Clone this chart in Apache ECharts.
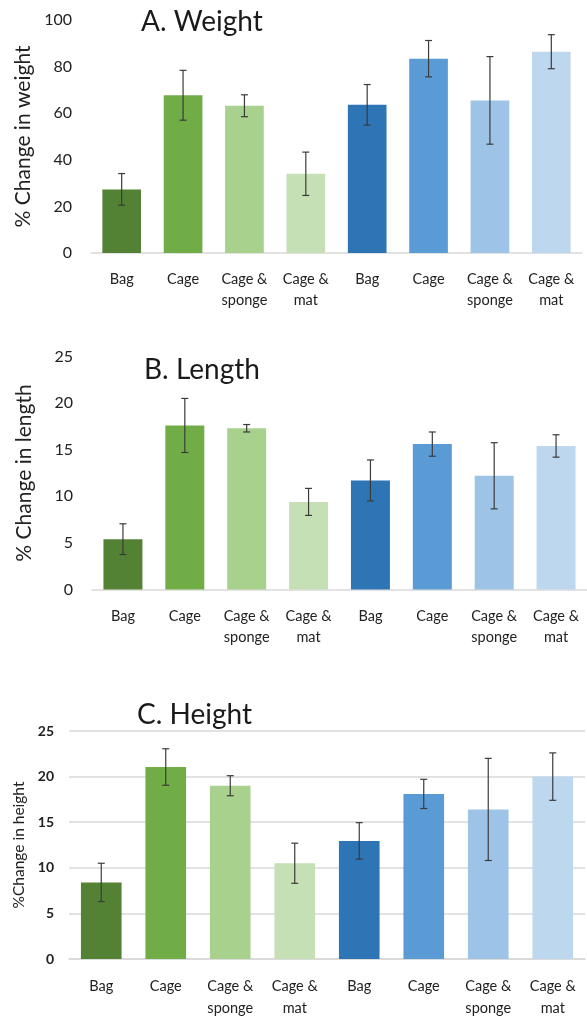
<!DOCTYPE html>
<html>
<head>
<meta charset="utf-8">
<script src="https://cdn.jsdelivr.net/npm/echarts@6/dist/echarts.min.js"></script>
<style>
html,body{margin:0;padding:0;background:#fff;}
#chart{width:587px;height:1019px;}
</style>
</head>
<body>
<div id="chart"></div>
<script>
const categories = ['Bag', 'Cage', 'Cage &\nsponge', 'Cage &\nmat', 'Bag', 'Cage', 'Cage &\nsponge', 'Cage &\nmat'];
const barColors = ['#548235', '#70AD47', '#A9D18E', '#C5E0B4', '#2E75B6', '#5B9BD5', '#9DC3E6', '#BDD7EE'];

const weightMean = [27.3, 67.7, 63.2, 34.0, 63.6, 83.4, 65.5, 86.4];
const weightErr  = [6.8, 10.7, 4.7, 9.3, 8.7, 7.8, 18.8, 7.3];
const lengthMean = [5.4, 17.6, 17.3, 9.4, 11.7, 15.6, 12.2, 15.4];
const lengthErr  = [1.65, 2.9, 0.4, 1.45, 2.2, 1.3, 3.55, 1.2];
const heightMean = [8.4, 21.05, 19.0, 10.5, 12.95, 18.1, 16.4, 20.0];
const heightErr  = [2.1, 2.0, 1.1, 2.2, 2.0, 1.6, 5.6, 2.6];

const weightTicks = {min: 0, max: 100, interval: 20};
const lengthTicks = {min: 0, max: 25, interval: 5};
const heightTicks = {min: 0, max: 25, interval: 5};

const FONT = 'Lato, "Open Sans", sans-serif';
const TXT = '#222222';

function barData(means) {
  return means.map((v, i) => ({value: v, itemStyle: {color: barColors[i]}}));
}
function errData(means, errs) {
  return means.map((v, i) => [i, v - errs[i], v + errs[i]]);
}
function errSeries(idx, means, errs) {
  return {
    type: 'custom', xAxisIndex: idx, yAxisIndex: idx, z: 5,
    data: errData(means, errs),
    encode: {x: 0, y: [1, 2]},
    renderItem: function (params, api) {
      const lo = api.coord([api.value(0), api.value(1)]);
      const hi = api.coord([api.value(0), api.value(2)]);
      const w = 3.5;
      const st = {stroke: '#3b3b3b', lineWidth: 1.2};
      return {type: 'group', children: [
        {type: 'line', shape: {x1: lo[0], y1: lo[1], x2: hi[0], y2: hi[1]}, style: st},
        {type: 'line', shape: {x1: lo[0] - w, y1: lo[1], x2: lo[0] + w, y2: lo[1]}, style: st},
        {type: 'line', shape: {x1: hi[0] - w, y1: hi[1], x2: hi[0] + w, y2: hi[1]}, style: st}
      ]};
    }
  };
}
function xAx(idx, fs, lh, margin) {
  return {
    type: 'category', gridIndex: idx, data: categories,
    axisLine: {show: true, lineStyle: {color: '#d9d9d9', width: 1.5}},
    axisTick: {show: false},
    axisLabel: {interval: 0, fontFamily: FONT, fontSize: fs, lineHeight: lh, color: TXT, margin: margin}
  };
}
function yAx(idx, ticks, name, nameSize, nameGap, labelSize, labelWeight, grid, margin) {
  return {
    type: 'value', gridIndex: idx, min: ticks.min, max: ticks.max, interval: ticks.interval,
    name: name, nameLocation: 'middle', nameGap: nameGap,
    nameTextStyle: {fontFamily: FONT, fontSize: nameSize, color: TXT},
    axisLine: {show: false}, axisTick: {show: false},
    axisLabel: {fontFamily: FONT, fontSize: labelSize, fontWeight: labelWeight, color: TXT, margin: margin},
    splitLine: {show: grid, lineStyle: {color: '#d9d9d9', width: 1.5}}
  };
}

const chart = echarts.init(document.getElementById('chart'));
chart.setOption({
  backgroundColor: '#fff',
  animation: false,
  title: [
    {text: 'A. Weight', left: 136, top: 3, textStyle: {fontFamily: FONT, fontSize: 28, fontWeight: 'normal', color: '#1a1a1a'}},
    {text: 'B. Length', left: 139, top: 351, textStyle: {fontFamily: FONT, fontSize: 28, fontWeight: 'normal', color: '#1a1a1a'}},
    {text: 'C. Height', left: 132, top: 696, textStyle: {fontFamily: FONT, fontSize: 28, fontWeight: 'normal', color: '#1a1a1a'}}
  ],
  grid: [
    {left: 91, right: 5, top: 20, height: 233},
    {left: 92, right: -6, top: 356.5, height: 233},
    {left: 69, right: 2, top: 731, height: 233.5}
  ],
  xAxis: [xAx(0, 14.5, 21, 16), xAx(1, 14.5, 21, 16), xAx(2, 14.5, 22, 16)],
  yAxis: [
    yAx(0, weightTicks, '% Change in weight', 21, 57, 16, 'normal', false, 19),
    yAx(1, lengthTicks, '% Change in length', 21, 57, 16, 'normal', false, 19),
    yAx(2, heightTicks, '%Change in height', 15.5, 35, 14, 'bold', true, 15)
  ],
  series: [
    {type: 'bar', xAxisIndex: 0, yAxisIndex: 0, barWidth: '63%', data: barData(weightMean)},
    errSeries(0, weightMean, weightErr),
    {type: 'bar', xAxisIndex: 1, yAxisIndex: 1, barWidth: '63%', data: barData(lengthMean)},
    errSeries(1, lengthMean, lengthErr),
    {type: 'bar', xAxisIndex: 2, yAxisIndex: 2, barWidth: '63%', data: barData(heightMean)},
    errSeries(2, heightMean, heightErr)
  ]
});
</script>
</body>
</html>
